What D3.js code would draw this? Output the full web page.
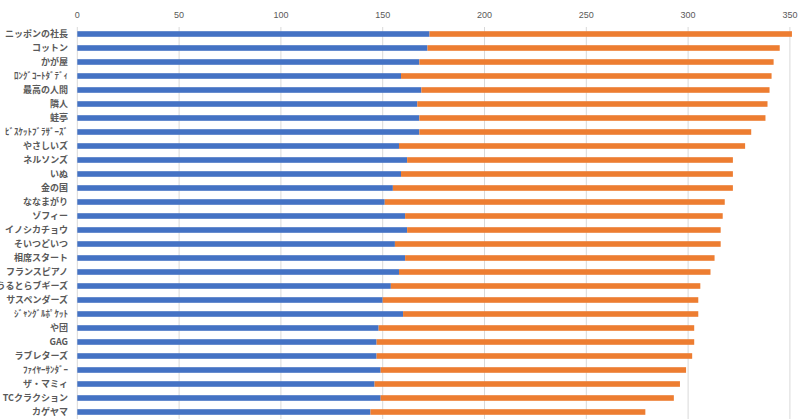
<!DOCTYPE html>
<html><head><meta charset="utf-8">
<script src="https://cdn.jsdelivr.net/npm/d3@7"></script>
<style>body{margin:0;background:#fff;} svg{display:block;}</style>
</head><body>
<script>
const categories = ["ニッポンの社長","コットン","かが屋","ﾛﾝｸﾞｺｰﾄﾀﾞﾃﾞｨ","最高の人間","隣人","蛙亭","ﾋﾞｽｹｯﾄﾌﾞﾗｻﾞｰｽﾞ","やさしいズ","ネルソンズ","いぬ","金の国","ななまがり","ゾフィー","イノシカチョウ","そいつどいつ","相席スタート","フランスピアノ","うるとらブギーズ","サスペンダーズ","ｼﾞｬﾝｸﾞﾙﾎﾟｹｯﾄ","や団","GAG","ラブレターズ","ﾌｧｲﾔｰｻﾝﾀﾞｰ","ザ・マミィ","TCクラクション","カゲヤマ"];
const series1 = [173,172,168,159,169,167,168,168,158,162,159,155,151,161,162,156,161,158,154,150,160,148,147,147,149,146,149,144];
const totals  = [351,345,342,341,340,339,338,331,328,322,322,322,318,317,316,316,313,311,306,305,305,303,303,302,299,296,293,279];
const series2 = totals.map((t,i)=>t-series1[i]);
const ticks = [0,50,100,150,200,250,300,350];

const W=800,H=419;
const svg=d3.select("body").append("svg").attr("width",W).attr("height",H);
const x=d3.scaleLinear().domain([0,350]).range([77.3,789.9]);
const y=d3.scaleBand().domain(categories).range([27,419]).paddingInner(0.6).paddingOuter(0.3);

// gridlines
svg.append("g").selectAll("line").data(ticks.slice(1)).join("line")
  .attr("x1",d=>x(d)).attr("x2",d=>x(d)).attr("y1",27).attr("y2",419)
  .attr("stroke","#d9d9d9").attr("stroke-width",1);
// axis line
svg.append("line").attr("x1",x(0)).attr("x2",x(0)).attr("y1",27).attr("y2",419)
  .attr("stroke","#d9d9d9").attr("stroke-width",1);

// tick labels
svg.append("g").selectAll("text").data(ticks).join("text")
  .attr("x",d=>x(d)).attr("y",18).attr("text-anchor","middle")
  .attr("font-family","Liberation Sans, Arial, sans-serif").attr("font-size",9).attr("fill","#595959")
  .text(d=>d);

// bars
svg.append("g").selectAll("rect").data(categories).join("rect")
  .attr("x",x(0)).attr("y",d=>y(d)).attr("height",y.bandwidth())
  .attr("width",(d,i)=>x(series1[i])-x(0)).attr("fill","#4472C4");
svg.append("g").selectAll("rect").data(categories).join("rect")
  .attr("x",(d,i)=>x(series1[i])).attr("y",d=>y(d)).attr("height",y.bandwidth())
  .attr("width",(d,i)=>x(series1[i]+series2[i])-x(series1[i])).attr("fill","#ED7D31");

// category labels
svg.append("g").selectAll("text").data(categories).join("text")
  .attr("x",68).attr("y",d=>y(d)+y.bandwidth()/2).attr("dy","0.35em").attr("text-anchor","end")
  .attr("font-family","'Noto Sans CJK JP', sans-serif").attr("font-size",9).attr("font-weight","bold").attr("fill","#595959")
  .text(d=>d);
</script>
</body></html>
